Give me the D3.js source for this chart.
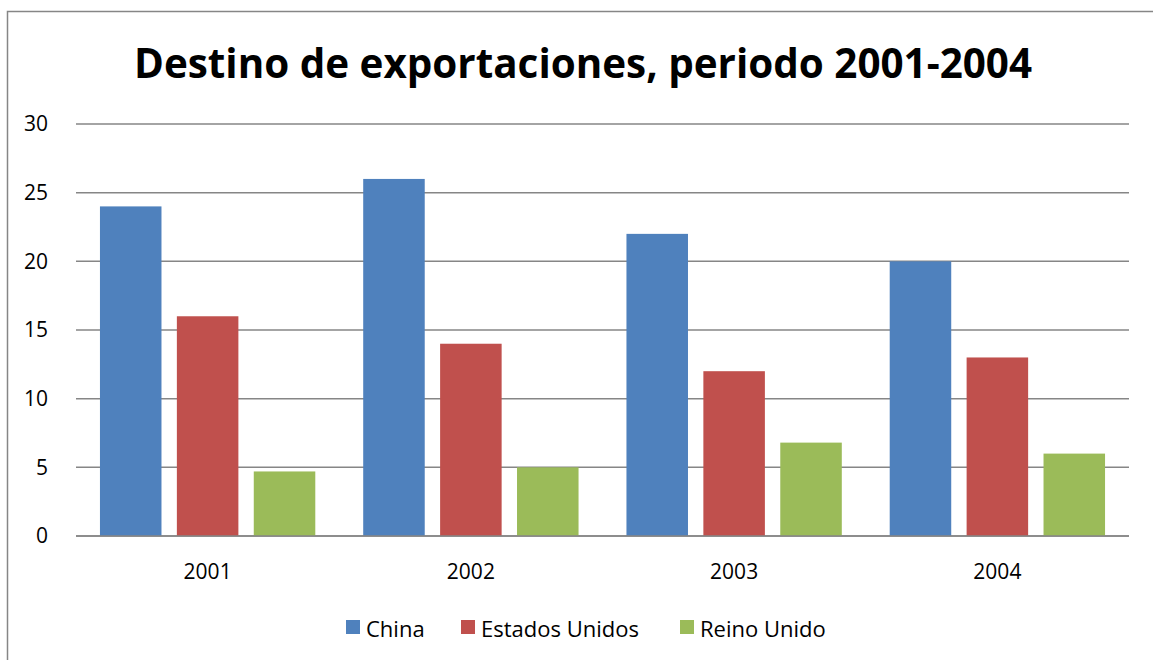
<!DOCTYPE html>
<html><head><meta charset="utf-8">
<script src="https://cdn.jsdelivr.net/npm/d3@7"></script>
<style>body{margin:0;background:#fff}svg{display:block}</style>
</head><body>
<svg id="c" width="1153" height="660"></svg>
<script>
const categories = ["2001", "2002", "2003", "2004"];
const seriesNames = ["China", "Estados Unidos", "Reino Unido"];
const china = [24, 26, 22, 20];
const estadosUnidos = [16, 14, 12, 13];
const reinoUnido = [4.7, 5, 6.8, 6];
const yTicks = [0, 5, 10, 15, 20, 25, 30];
const colors = ["#4F81BD", "#C0504D", "#9BBB59"];
const seriesValues = [china, estadosUnidos, reinoUnido];

const svg = d3.select("#c");
const font = "'Open Sans', 'Noto Sans', sans-serif";
const plotLeft = 76, plotRight = 1129, plotTop = 124, plotBottom = 536;

svg.append("rect").attr("x", 7.5).attr("y", 11.5).attr("width", 1160).attr("height", 700)
  .attr("fill", "#fff").attr("stroke", "#868686").attr("stroke-width", 1.5);

svg.append("text").attr("x", 583).attr("y", 78).attr("text-anchor", "middle")
  .attr("font-family", font).attr("font-weight", "bold").attr("font-size", 42)
  .attr("textLength", 898).attr("lengthAdjust", "spacingAndGlyphs")
  .text("Destino de exportaciones, periodo 2001-2004");

const y = d3.scaleLinear().domain([0, 30]).range([plotBottom, plotTop]);
const x0 = d3.scaleBand().domain(categories).range([plotLeft, plotRight]).paddingInner(0.182).paddingOuter(0.091);
const x1 = d3.scaleBand().domain(seriesNames).range([0, x0.bandwidth()]).paddingInner(0.2);

// gridlines
svg.append("g").selectAll("line").data(yTicks).join("line")
  .attr("x1", plotLeft).attr("x2", plotRight).attr("y1", d => y(d)).attr("y2", d => y(d))
  .attr("stroke", "#868686").attr("stroke-width", 1.5);

const yAxis = svg.append("g").attr("transform", `translate(${plotLeft},0)`)
  .call(d3.axisLeft(y).tickValues(yTicks).tickSize(0).tickPadding(28));
yAxis.select(".domain").remove();
yAxis.selectAll("text").attr("font-family", font).attr("font-size", 21).attr("fill", "#000");

const groups = svg.append("g").selectAll("g").data(categories).join("g")
  .attr("transform", d => `translate(${x0(d)},0)`);
groups.selectAll("rect").data((c, i) => seriesNames.map((s, j) => ({s, v: seriesValues[j][i], j})))
  .join("rect")
  .attr("x", d => x1(d.s)).attr("width", x1.bandwidth())
  .attr("y", d => y(d.v)).attr("height", d => y(0) - y(d.v))
  .attr("fill", d => colors[d.j]);

svg.append("line").attr("x1", plotLeft).attr("x2", plotRight).attr("y1", plotBottom).attr("y2", plotBottom)
  .attr("stroke", "#868686").attr("stroke-width", 1.5);

const xAxis = svg.append("g").attr("transform", `translate(0,${plotBottom})`)
  .call(d3.axisBottom(x0).tickSize(0).tickPadding(28));
xAxis.select(".domain").remove();
xAxis.selectAll("text").attr("font-family", font).attr("font-size", 21).attr("fill", "#000");

// legend
const legendX = [346, 461, 680];
const lg = svg.append("g").selectAll("g").data(seriesNames).join("g")
  .attr("transform", (d, i) => `translate(${legendX[i]},620)`);
lg.append("rect").attr("width", 14).attr("height", 14).attr("fill", (d, i) => colors[i]);
lg.append("text").attr("x", 20).attr("y", 17).attr("font-family", font).attr("font-size", 22)
  .attr("fill", "#000").text(d => d);
</script>
</body></html>
